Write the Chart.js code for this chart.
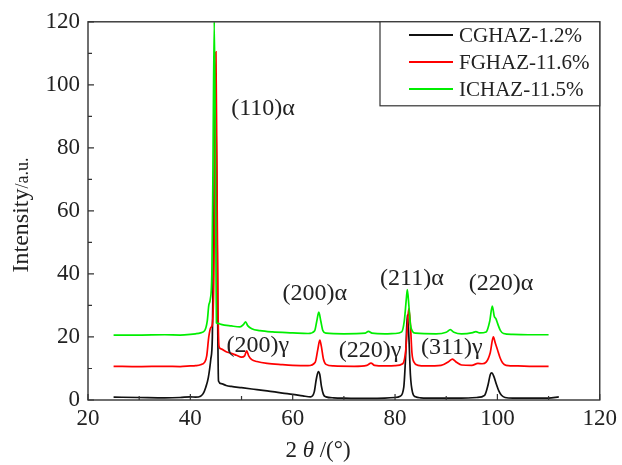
<!DOCTYPE html>
<html>
<head>
<meta charset="utf-8">
<script src="https://cdn.jsdelivr.net/npm/chart.js@4.4.1/dist/chart.umd.min.js"></script>
<style>
  html, body { margin: 0; padding: 0; background: #ffffff; }
  #wrap { width: 622px; height: 465px; position: relative; }
</style>
</head>
<body>
<div id="wrap"><canvas id="c" width="622" height="465"></canvas></div>
<script>
// ---- Data ----
const seriesNames = ['CGHAZ-1.2%', 'FGHAZ-11.6%', 'ICHAZ-11.5%'];

const cgX = [25, 30, 35, 38, 40, 41, 42, 42.5, 43, 43.5, 44, 44.3, 44.6, 44.9, 45.2, 45.35, 45.5, 46, 47, 48, 50, 52, 55, 58, 60, 62, 63.5, 64.2, 64.6, 65.0, 65.3, 65.6, 66.0, 66.5, 68, 70, 75, 78, 80, 81, 81.7, 82.1, 82.4, 82.7, 83.0, 83.4, 84, 85, 88, 90, 93, 96, 97.5, 98.2, 98.6, 98.9, 99.3, 99.8, 100.3, 100.8, 101.5, 103, 106, 110, 112];
const cgY = [0.9, 0.8, 0.7, 0.8, 1.0, 0.9, 1.2, 2.0, 4.0, 7.0, 13, 20, 60, 100, 60, 24, 6.0, 5.2, 4.6, 4.3, 3.9, 3.5, 2.9, 2.2, 1.8, 1.3, 1.0, 2.5, 6.5, 9.0, 8.0, 4.5, 1.8, 1.0, 0.7, 0.6, 0.5, 0.6, 0.8, 1.2, 4, 15, 27, 20, 8, 2.5, 1.0, 0.7, 0.6, 0.6, 0.6, 0.8, 1.5, 5, 8, 8.6, 7.5, 5, 2.8, 1.5, 0.8, 0.6, 0.6, 0.6, 1.0];

const fgX = [25, 30, 35, 38, 40, 41, 42, 42.8, 43.2, 43.6, 44.0, 44.3, 44.6, 44.8, 45.0, 45.2, 45.4, 45.6, 46, 47, 48, 49, 50, 50.6, 51.0, 51.4, 52, 53, 55, 58, 60, 63, 64.4, 64.9, 65.3, 65.6, 66.0, 66.5, 68, 72, 74.5, 75.3, 76, 78, 80, 81.5, 82.1, 82.5, 82.7, 83.0, 83.3, 83.7, 84.5, 86, 89, 90.5, 91.2, 92, 93, 95, 96.2, 97, 97.8, 98.6, 99.2, 99.6, 100, 100.5, 101, 101.7, 104, 107, 110];
const fgY = [10.7, 10.6, 10.7, 10.6, 10.8, 10.9, 11.2, 12, 14, 20, 23, 24, 40, 80, 110.5, 70, 30, 17, 16.2, 15.3, 14.8, 14.2, 13.6, 14, 15.6, 14, 12.8, 12.2, 11.6, 11.2, 11.0, 10.9, 12, 16, 19, 17, 13, 11.3, 10.8, 10.7, 11, 11.7, 11, 10.8, 10.9, 11.5, 16, 26, 29, 24, 15, 12, 11, 10.8, 11, 12.2, 13, 12, 11.1, 11.0, 11.6, 11.5, 12, 15, 20, 18, 16, 13.5, 11.8, 11, 10.8, 10.7, 10.7];

const icX = [25, 30, 35, 38, 40, 41, 42, 42.8, 43.3, 43.6, 43.9, 44.2, 44.4, 44.67, 44.85, 45.0, 45.1, 45.5, 46, 48, 49.7, 50.4, 50.8, 51.2, 52, 53.6, 56, 60, 63, 64.3, 64.7, 65.1, 65.5, 65.9, 66.5, 70, 74.2, 74.8, 75.5, 78, 80, 81.3, 81.8, 82.2, 82.4, 82.7, 83.0, 83.4, 84, 88, 90, 90.8, 91.5, 93, 95.2, 95.8, 96.5, 97.8, 98.5, 99.0, 99.4, 99.7, 100.1, 100.6, 101.2, 103, 106, 110];
const icY = [20.6, 20.6, 20.7, 20.6, 20.8, 21, 21.3, 22, 25, 30, 32, 40, 70, 120, 90, 45, 24.5, 24.3, 24, 23.5, 23.2, 24, 24.8, 23.6, 22.6, 22, 21.6, 21.3, 21.1, 22, 25, 27.9, 25, 22, 21.2, 21, 21.2, 21.8, 21.2, 21, 21.1, 21.6, 25, 32, 35, 30, 24, 21.8, 21.2, 21, 21.5, 22.3, 21.5, 21, 21.4, 21.7, 21.3, 21.6, 25, 29.8, 26.5, 25.8, 24, 22, 21.1, 20.8, 20.7, 20.7];

const xTicks = [20, 40, 60, 80, 100, 120];
const yTicks = [0, 20, 40, 60, 80, 100, 120];

const peakLabels = ['(110)α', '(200)α', '(211)α', '(220)α', '(200)γ', '(220)γ', '(311)γ'];
const peakLabelX = [54.2, 64.3, 83.3, 100.7, 53.2, 75.1, 91.1];
const peakLabelY = [92.5, 33.8, 38.5, 36.9, 17.1, 15.8, 16.7];

// ---- Styles ----
const colors = ['#111111', '#ff0000', '#00ee00'];
const SERIF = '"Liberation Serif", "Times New Roman", serif';
const INK = '#222222';

function pts(xs, ys) { return xs.map((x, i) => ({ x: x, y: ys[i] })); }

const decorPlugin = {
  id: 'decor',
  afterDatasetsDraw(chart) {
    const ctx = chart.ctx;
    const a = chart.chartArea;
    const xs = chart.scales.x, ys = chart.scales.y;
    ctx.save();
    // frame
    ctx.strokeStyle = '#333333';
    ctx.lineWidth = 1.4;
    ctx.strokeRect(a.left, a.top, a.right - a.left, a.bottom - a.top);
    // inward ticks
    ctx.lineWidth = 1.2;
    ctx.beginPath();
    for (let v = 20; v <= 120; v += 10) {
      const px = xs.getPixelForValue(v);
      const len = (v % 20 === 0) ? 6 : 4;
      ctx.moveTo(px, a.bottom); ctx.lineTo(px, a.bottom - len);
    }
    for (let v = 0; v <= 120; v += 10) {
      const py = ys.getPixelForValue(v);
      const len = (v % 20 === 0) ? 6 : 4;
      ctx.moveTo(a.left, py); ctx.lineTo(a.left + len, py);
    }
    ctx.stroke();

    // peak labels
    ctx.fillStyle = INK;
    ctx.font = '24px ' + SERIF;
    ctx.textAlign = 'center';
    ctx.textBaseline = 'middle';
    peakLabels.forEach((t, i) => {
      ctx.fillText(t, xs.getPixelForValue(peakLabelX[i]), ys.getPixelForValue(peakLabelY[i]));
    });

    // legend
    const lx = 380, ly = a.top, lw = a.right - 380, lh = 84;
    ctx.fillStyle = '#ffffff';
    ctx.fillRect(lx, ly, lw, lh);
    ctx.strokeStyle = '#333333';
    ctx.lineWidth = 1.2;
    ctx.strokeRect(lx, ly, lw, lh);
    ctx.font = '21px ' + SERIF;
    ctx.textAlign = 'left';
    const rows = [35, 62, 89];
    seriesNames.forEach((n, i) => {
      ctx.strokeStyle = colors[i];
      ctx.lineWidth = 2;
      ctx.beginPath();
      ctx.moveTo(409, rows[i]); ctx.lineTo(453, rows[i]);
      ctx.stroke();
      ctx.fillStyle = INK;
      ctx.fillText(n, 459, rows[i] + 1);
    });

    // y title
    ctx.save();
    ctx.translate(22, 215);
    ctx.rotate(-Math.PI / 2);
    ctx.fillStyle = INK;
    ctx.textBaseline = 'middle';
    ctx.font = '24px ' + SERIF;
    const w1 = ctx.measureText('Intensity').width;
    ctx.font = '18px ' + SERIF;
    const w2 = ctx.measureText('/a.u.').width;
    let sx = -(w1 + w2) / 2;
    ctx.textAlign = 'left';
    ctx.font = '24px ' + SERIF;
    ctx.fillText('Intensity', sx, 0);
    ctx.font = '18px ' + SERIF;
    ctx.fillText('/a.u.', sx + w1, 1);
    ctx.restore();

    // x title
    ctx.fillStyle = INK;
    ctx.textBaseline = 'middle';
    ctx.textAlign = 'left';
    const parts = [['2 ', '23px ' + SERIF], ['θ', 'italic 23px ' + SERIF], [' /(°)', '23px ' + SERIF]];
    let tw = 0;
    parts.forEach(p => { ctx.font = p[1]; tw += ctx.measureText(p[0]).width; });
    let cx = 318 - tw / 2;
    parts.forEach(p => { ctx.font = p[1]; ctx.fillText(p[0], cx, 451); cx += ctx.measureText(p[0]).width; });
    ctx.restore();
  }
};

new Chart(document.getElementById('c'), {
  type: 'line',
  data: {
    datasets: [
      { label: seriesNames[2], data: pts(icX, icY), borderColor: colors[2], order: 0 },
      { label: seriesNames[1], data: pts(fgX, fgY), borderColor: colors[1], order: 1 },
      { label: seriesNames[0], data: pts(cgX, cgY), borderColor: colors[0], order: 2 }
    ]
  },
  options: {
    responsive: false,
    animation: false,
    devicePixelRatio: 1,
    layout: { padding: { left: 0, right: 22, top: 20, bottom: 0 } },
    elements: {
      point: { radius: 0 },
      line: { borderWidth: 1.7, cubicInterpolationMode: 'monotone', fill: false }
    },
    plugins: { legend: { display: false }, tooltip: { enabled: false } },
    scales: {
      x: {
        type: 'linear', min: 20, max: 120,
        afterBuildTicks: s => { s.ticks = xTicks.map(v => ({ value: v })); },
        afterFit: s => { s.height = 65; },
        grid: { display: false, drawTicks: false },
        border: { display: false },
        ticks: { color: INK, padding: 5, maxRotation: 0, font: { family: SERIF, size: 23 } }
      },
      y: {
        type: 'linear', min: 0, max: 120,
        afterBuildTicks: s => { s.ticks = yTicks.map(v => ({ value: v })); },
        afterFit: s => { s.width = 88; },
        grid: { display: false, drawTicks: false },
        border: { display: false },
        ticks: { color: INK, padding: 8, font: { family: SERIF, size: 23 } }
      }
    }
  },
  plugins: [decorPlugin]
});
</script>
</body>
</html>
